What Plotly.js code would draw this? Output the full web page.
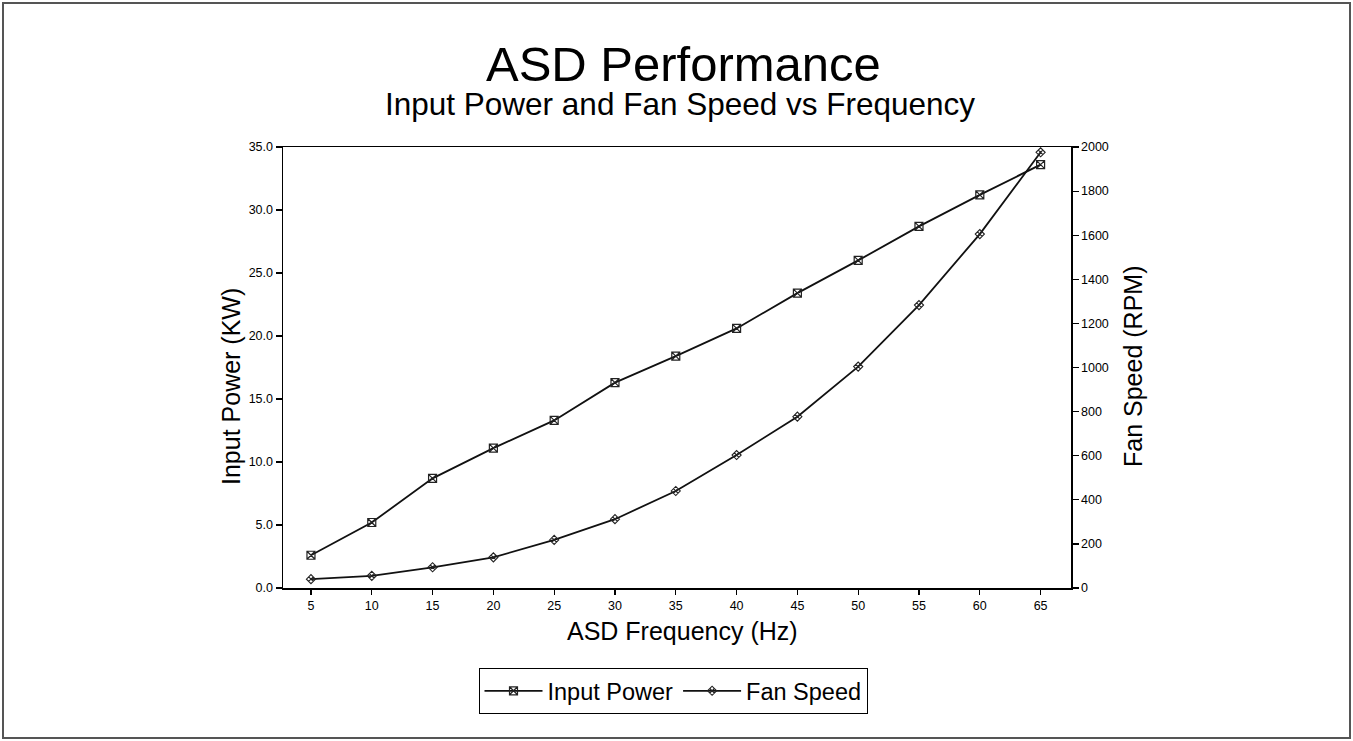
<!DOCTYPE html>
<html>
<head>
<meta charset="utf-8">
<script src="https://cdn.plot.ly/plotly-3.0.1.min.js"></script>
<style>
html,body{margin:0;padding:0;background:#fff;}
#chart{width:1353px;height:741px;}
</style>
</head>
<body>
<div id="chart"></div>
<script>
const frequencyHz = [5, 10, 15, 20, 25, 30, 35, 40, 45, 50, 55, 60, 65];
const inputPowerKW = [2.6, 5.2, 8.7, 11.1, 13.3, 16.3, 18.4, 20.6, 23.4, 26.0, 28.7, 31.2, 33.6];
const fanSpeedRPM = [40, 55, 94, 139, 218, 312, 440, 603, 777, 1004, 1283, 1605, 1976];
const seriesNames = ["Input Power", "Fan Speed"];
const titleText = "ASD Performance";
const subtitleText = "Input Power and Fan Speed vs Frequency";
const xTitle = "ASD Frequency (Hz)";
const yTitle = "Input Power (KW)";
const y2Title = "Fan Speed (RPM)";

const W = 1353, H = 741;
const M = {l: 283, r: 282, t: 147, b: 153};
const PW = W - M.l - M.r, PH = H - M.t - M.b;
const px = x => (x - M.l) / PW;
const py = y => (H - M.b - y) / PH;
const FONT = "Liberation Sans, Arial, Helvetica, sans-serif";

const traces = [
  {
    x: frequencyHz, y: inputPowerKW, name: seriesNames[0], type: "scatter", mode: "lines+markers",
    line: {color: "#111", width: 1.8},
    marker: {symbol: "square-x-open", size: 8, color: "#222", line: {width: 1.2, color: "#222"}},
    yaxis: "y"
  },
  {
    x: frequencyHz, y: fanSpeedRPM, name: seriesNames[1], type: "scatter", mode: "lines+markers",
    line: {color: "#111", width: 1.8},
    marker: {symbol: "diamond-x-open", size: 7, color: "#222", line: {width: 1.1, color: "#222"}},
    yaxis: "y2"
  }
];

const axisCommon = {
  showgrid: false, zeroline: false, showline: true, linecolor: "#000", linewidth: 1.5,
  ticks: "outside", tickcolor: "#000", tickwidth: 1.2,
  tickfont: {family: FONT, size: 12.5, color: "#000"}
};

const layout = {
  width: W, height: H,
  margin: M,
  paper_bgcolor: "#fff", plot_bgcolor: "#fff",
  font: {family: FONT, color: "#000"},
  showlegend: true,
  xaxis: Object.assign({}, axisCommon, {
    range: [2.7, 67.5], tickmode: "linear", tick0: 5, dtick: 5, ticklen: 5, mirror: true
  }),
  yaxis: Object.assign({}, axisCommon, {
    range: [0, 35], tickmode: "linear", tick0: 0, dtick: 5, tickformat: ".1f", ticklen: 6
  }),
  yaxis2: Object.assign({}, axisCommon, {
    range: [0, 2000], tickmode: "linear", tick0: 0, dtick: 200, ticklen: 6,
    overlaying: "y", side: "right"
  }),
  legend: {
    orientation: "h", x: px(673), xanchor: "center", y: py(668), yanchor: "top",
    bordercolor: "#000", borderwidth: 1, bgcolor: "#fff",
    font: {family: FONT, size: 23.5, color: "#000"}, itemwidth: 58
  },
  annotations: [
    {text: titleText, xref: "paper", yref: "paper", x: px(683), y: py(64), xanchor: "center", yanchor: "middle",
     showarrow: false, font: {family: FONT, size: 49, color: "#000"}},
    {text: subtitleText, xref: "paper", yref: "paper", x: px(680), y: py(104), xanchor: "center", yanchor: "middle",
     showarrow: false, font: {family: FONT, size: 31.5, color: "#000"}},
    {text: xTitle, xref: "paper", yref: "paper", x: px(682), y: py(631), xanchor: "center", yanchor: "middle",
     showarrow: false, font: {family: FONT, size: 25, color: "#000"}},
    {text: yTitle, xref: "paper", yref: "paper", x: px(231), y: py(387), xanchor: "center", yanchor: "middle",
     textangle: -90, showarrow: false, font: {family: FONT, size: 25, color: "#000"}},
    {text: y2Title, xref: "paper", yref: "paper", x: px(1133), y: py(367), xanchor: "center", yanchor: "middle",
     textangle: -90, showarrow: false, font: {family: FONT, size: 25, color: "#000"}}
  ],
  shapes: [
    {type: "rect", xref: "paper", yref: "paper", x0: px(3), x1: px(1350), y0: py(3), y1: py(738),
     line: {color: "#555", width: 2}, fillcolor: "rgba(0,0,0,0)", layer: "below"}
  ]
};

Plotly.newPlot("chart", traces, layout, {displayModeBar: false, staticPlot: true});
</script>
</body>
</html>
